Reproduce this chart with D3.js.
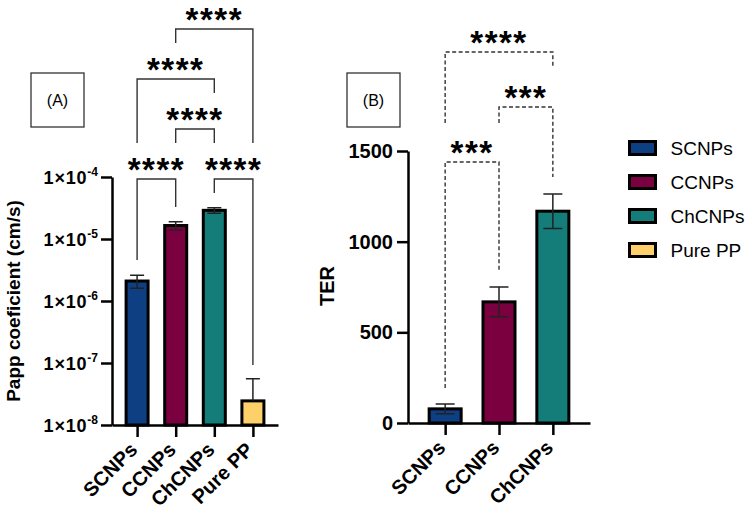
<!DOCTYPE html>
<html>
<head>
<meta charset="utf-8">
<script src="https://cdn.jsdelivr.net/npm/d3@7"></script>
<style>
  body { margin: 0; background: #fff; }
  svg { display: block; }
  text { font-family: "Liberation Sans", Arial, sans-serif; }
</style>
</head>
<body>
<svg id="chart" width="750" height="514"></svg>
<script>
// panel A: apparent permeability (log scale)
const catsA = ["SCNPs", "CCNPs", "ChCNPs", "Pure PP"];
const pappMean = [2.1e-6, 1.65e-5, 2.9e-5, 2.45e-8];
const pappSd = [0.5e-6, 0.25e-5, 0.3e-5, 3.1e-8];
const ticksA = [1e-8, 1e-7, 1e-6, 1e-5, 1e-4];

// panel B: TER
const catsB = ["SCNPs", "CCNPs", "ChCNPs"];
const terMean = [78, 668, 1168];
const terSd = [27, 82, 95];
const ticksB = [0, 500, 1000, 1500];

// significance comparisons [from, to, label]
const compA = [
  ["SCNPs", "CCNPs", "****"],
  ["ChCNPs", "Pure PP", "****"],
  ["CCNPs", "ChCNPs", "****"],
  ["SCNPs", "ChCNPs", "****"],
  ["CCNPs", "Pure PP", "****"]
];
const compB = [
  ["SCNPs", "CCNPs", "***"],
  ["CCNPs", "ChCNPs", "***"],
  ["SCNPs", "ChCNPs", "****"]
];

const colors = {
  "SCNPs": "#0d3f82",
  "CCNPs": "#7a0040",
  "ChCNPs": "#147d79",
  "Pure PP": "#fdd06a"
};

const svg = d3.select("#chart");
const font = '"Liberation Sans", Arial, sans-serif';

// bracket geometry: line y, left leg end, right leg end
const layoutA = [[179, 260, 207], [179, 193, 365], [129, 143, 143], [79, 143, 93], [29, 43, 143]];
const layoutB = [[162, 388, 271], [107, 123, 177], [52, 123, 67]];

function drawStars(g, x, yCenter, label) {
  g.append("text")
    .attr("x", x)
    .attr("y", yCenter + 19)
    .attr("text-anchor", "middle")
    .attr("font-size", 33)
    .attr("font-weight", "bold")
    .attr("letter-spacing", 1.5)
    .text(label);
}

function drawBrackets(g, comps, layout, x, dashed) {
  comps.forEach((c, i) => {
    const [yl, l1, l2] = layout[i];
    const x1 = x(c[0]), x2 = x(c[1]);
    g.append("path")
      .attr("d", `M${x1},${l1}V${yl}H${x2}V${l2}`)
      .attr("fill", "none")
      .attr("stroke", "#333")
      .attr("stroke-width", 1.4)
      .attr("stroke-dasharray", dashed ? "4,2.5" : null);
    drawStars(g, (x1 + x2) / 2, yl - 17.5, c[2]);
  });
}

function drawBars(g, cats, mean, sd, x, y, w, cap) {
  const y0 = y.range()[0];
  g.selectAll("rect.bar")
    .data(cats)
    .join("rect")
    .attr("class", "bar")
    .attr("x", d => x(d) - w / 2)
    .attr("width", w)
    .attr("y", (d, i) => y(mean[i]))
    .attr("height", (d, i) => y0 - y(mean[i]))
    .attr("fill", d => colors[d])
    .attr("stroke", "#000")
    .attr("stroke-width", 3);

  const err = g.selectAll("g.err")
    .data(cats)
    .join("g")
    .attr("class", "err");
  err.append("path")
    .attr("d", (d, i) => {
      const cx = x(d);
      const hi = y(mean[i] + sd[i]);
      const lowVal = mean[i] - sd[i];
      const lo = lowVal > y.domain()[0] ? y(lowVal) : null;
      let p = `M${cx},${y(mean[i])}V${hi}M${cx - cap / 2},${hi}H${cx + cap / 2}`;
      if (lo !== null) p += `M${cx},${y(mean[i])}V${lo}M${cx - cap / 2},${lo}H${cx + cap / 2}`;
      return p;
    })
    .attr("fill", "none")
    .attr("stroke", "#222")
    .attr("stroke-width", 1.5);
}

function styleAxis(a) {
  a.selectAll("path.domain").attr("stroke", "#000").attr("stroke-width", 2.5);
  a.selectAll(".tick line").attr("stroke", "#000").attr("stroke-width", 2.5);
}

function xLabels(a) {
  a.selectAll(".tick text")
    .attr("font-family", font)
    .attr("font-size", 20)
    .attr("font-weight", "bold")
    .attr("fill", "#000")
    .attr("text-anchor", "end")
    .attr("dy", null)
    .attr("y", 0)
    .attr("transform", "translate(1,26) rotate(-45)");
}

// ---------- panel A ----------
const xA = d3.scalePoint().domain(catsA).range([112, 278]).padding(0.65);
const yA = d3.scaleLog().domain([1e-8, 1e-4]).range([425, 177]);
const gA = svg.append("g");

drawBars(gA, catsA, pappMean, pappSd, xA, yA, 22, 14);

const axYA = gA.append("g")
  .attr("transform", "translate(112,0)")
  .call(d3.axisLeft(yA).tickValues(ticksA).tickSize(11).tickSizeOuter(0).tickPadding(4).tickFormat(""));
styleAxis(axYA);
axYA.selectAll(".tick").each(function(d) {
  const t = d3.select(this).append("text")
    .attr("x", -14)
    .attr("y", 6)
    .attr("text-anchor", "end")
    .attr("fill", "#000")
    .attr("font-size", 18)
    .attr("font-weight", "bold")
    .attr("font-family", font);
  t.append("tspan").attr("letter-spacing", 0.8).text("1×10");
  t.append("tspan").attr("font-size", 12).attr("dy", -8).text("-" + Math.round(-Math.log10(d)));
});

const axXA = gA.append("g")
  .attr("transform", "translate(0,425)")
  .call(d3.axisBottom(xA).tickSize(12).tickSizeOuter(0));
styleAxis(axXA);
xLabels(axXA);

gA.append("text")
  .attr("transform", "translate(20,301) rotate(-90)")
  .attr("text-anchor", "middle")
  .attr("font-size", 19)
  .attr("font-weight", "bold")
  .text("Papp coeficient (cm/s)");

gA.append("rect")
  .attr("x", 31).attr("y", 73).attr("width", 53).attr("height", 54)
  .attr("fill", "none").attr("stroke", "#333").attr("stroke-width", 1.3);
gA.append("text")
  .attr("x", 57.5).attr("y", 106)
  .attr("text-anchor", "middle")
  .attr("font-size", 16)
  .text("(A)");

drawBrackets(gA, compA, layoutA, xA, false);

// ---------- panel B ----------
const xB = d3.scalePoint().domain(catsB).range([408, 590]).padding(0.69);
const yB = d3.scaleLinear().domain([0, 1500]).range([423, 151]);
const gB = svg.append("g");

drawBars(gB, catsB, terMean, terSd, xB, yB, 32, 19);

const axYB = gB.append("g")
  .attr("transform", "translate(408,0)")
  .call(d3.axisLeft(yB).tickValues(ticksB).tickFormat(d3.format("d")).tickSize(11).tickSizeOuter(0).tickPadding(4));
styleAxis(axYB);
axYB.selectAll(".tick text")
  .attr("font-family", font)
  .attr("font-size", 20)
  .attr("font-weight", "bold")
  .attr("fill", "#000");

const axXB = gB.append("g")
  .attr("transform", "translate(0,423)")
  .call(d3.axisBottom(xB).tickSize(12).tickSizeOuter(0));
styleAxis(axXB);
xLabels(axXB);

gB.append("text")
  .attr("transform", "translate(334,286) rotate(-90)")
  .attr("text-anchor", "middle")
  .attr("font-size", 20)
  .attr("font-weight", "bold")
  .text("TER");

gB.append("rect")
  .attr("x", 347).attr("y", 73).attr("width", 53).attr("height", 54)
  .attr("fill", "none").attr("stroke", "#333").attr("stroke-width", 1.3);
gB.append("text")
  .attr("x", 373.5).attr("y", 106)
  .attr("text-anchor", "middle")
  .attr("font-size", 16)
  .text("(B)");

drawBrackets(gB, compB, layoutB, xB, true);

// ---------- legend ----------
const leg = svg.append("g")
  .selectAll("g")
  .data(catsA)
  .join("g")
  .attr("transform", (d, i) => `translate(629.5,${141.5 + i * 34})`);
leg.append("rect")
  .attr("width", 26).attr("height", 13)
  .attr("fill", d => colors[d])
  .attr("stroke", "#000").attr("stroke-width", 3);
leg.append("text")
  .attr("x", 41).attr("y", 13.5)
  .attr("font-size", 19)
  .text(d => d);
</script>
</body>
</html>
